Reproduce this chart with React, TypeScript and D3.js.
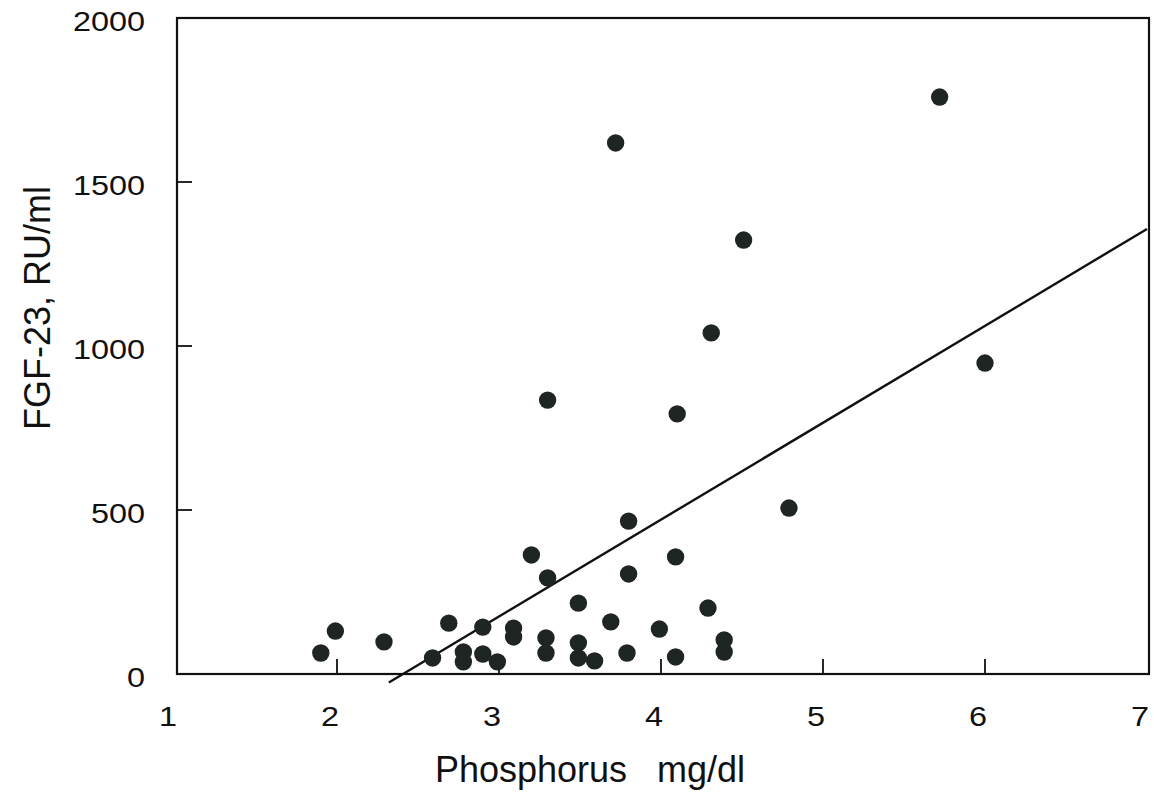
import React from 'react'
import * as d3 from 'd3'

// values
const phosphorus = [
  1.9, 1.99, 2.29, 2.59, 2.69, 2.78, 2.78, 2.9, 2.9, 2.99,
  3.09, 3.09, 3.2, 3.3, 3.3, 3.29, 3.29, 3.49, 3.49, 3.49,
  3.59, 3.69, 3.72, 3.8, 3.8, 3.79, 3.99, 4.09, 4.1, 4.09,
  4.29, 4.31, 4.39, 4.39, 4.51, 4.79, 5.72, 6.0,
]
const fgf23 = [
  64, 131, 98, 49, 155, 67, 37, 143, 61, 37,
  140, 113, 363, 293, 835, 110, 64, 216, 95, 49,
  40, 159, 1619, 466, 305, 64, 137, 357, 793, 52,
  201, 1040, 104, 67, 1323, 506, 1759, 948,
]
const xTicks = [1, 2, 3, 4, 5, 6, 7]
const yTicks = [0, 500, 1000, 1500, 2000]
// fitted regression line: FGF23 = slope * P + intercept
const fitSlope = 295.4
const fitIntercept = -711
const fitRange = [2.32, 7.0]

const width = 1154
const height = 795
const left = 177
const right = 1149
const top = 18
const bottom = 674

const font = 'Arial, "Liberation Sans", Helvetica, sans-serif'

const App: React.FC = () => {
  const x = d3.scaleLinear([1, 7], [left - 2, right - 2])
  const y = d3.scaleLinear([0, 2000], [bottom, top])

  const points = phosphorus.map((p, i) => ({ p, v: fgf23[i] }))
  const fitLine = d3.line<number>()
    .x((d) => x(d))
    .y((d) => y(fitSlope * d + fitIntercept))

  return (
    <svg width={width} height={height} style={{ position: 'absolute', left: 0, top: 0, background: '#fff' }}>
      {/* frame */}
      <rect x={left} y={top} width={right - left} height={bottom - top}
        fill="none" stroke="#111" strokeWidth={2.2} />

      {/* inward ticks */}
      {xTicks.slice(1, -1).map((t) => (
        <line key={'xt' + t} x1={x(t)} x2={x(t)} y1={bottom} y2={bottom - 15} stroke="#111" strokeWidth={1.8} />
      ))}
      {yTicks.slice(1, -1).map((t) => (
        <line key={'yt' + t} x1={left} x2={left + 15} y1={y(t)} y2={y(t)} stroke="#111" strokeWidth={1.8} />
      ))}

      {/* tick labels, slightly wide as in the scan */}
      {xTicks.map((t) => (
        <text key={'xl' + t} transform={`translate(${x(t) - 7},726) scale(1.2,1)`} textAnchor="middle"
          fontFamily={font} fontSize={27} fill="#111">{t}</text>
      ))}
      {yTicks.map((t) => (
        <text key={'yl' + t} transform={`translate(145,${y(t) + 13}) scale(1.2,1)`} textAnchor="end"
          fontFamily={font} fontSize={27} fill="#111">{t}</text>
      ))}

      {/* axis titles */}
      <text x={590} y={782} textAnchor="middle" fontFamily={font} fontSize={36} fill="#111"
        style={{ whiteSpace: 'pre' }}>{'Phosphorus   mg/dl'}</text>
      <text transform="translate(50,308) rotate(-90)" textAnchor="middle" fontFamily={font}
        fontSize={36} fill="#111">FGF-23, RU/ml</text>

      {/* regression line */}
      <path d={fitLine(fitRange) ?? ''} fill="none" stroke="#111" strokeWidth={2.4} />

      {/* data */}
      {points.map((d, i) => (
        <circle key={i} cx={x(d.p)} cy={y(d.v)} r={8.7} fill="#1f2523" />
      ))}
    </svg>
  )
}

export default App
